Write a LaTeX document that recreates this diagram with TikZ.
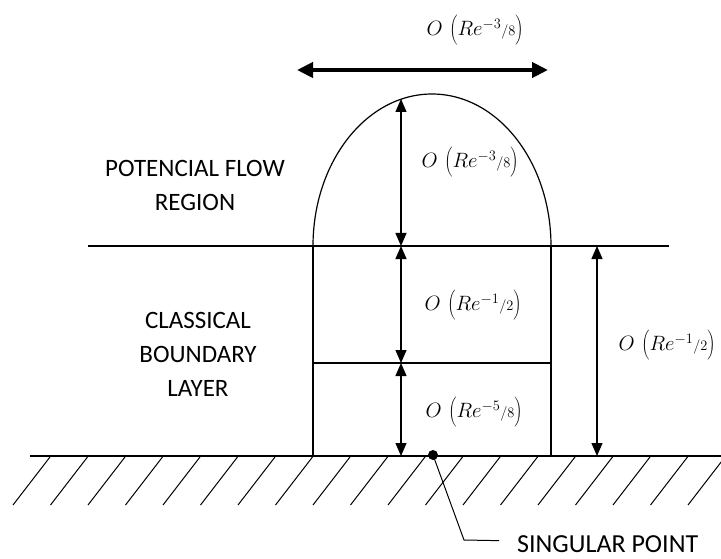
\documentclass[tikz,border=0pt]{standalone}
\usepackage[no-math]{fontspec}
\setmainfont{Carlito}
\usetikzlibrary{arrows.meta,positioning,calc}

\newcommand{\ordre}[2]{$O\,\left(\rule[-9pt]{0pt}{30pt}Re^{-#1}{\scriptstyle/#2}\right)$}

\begin{document}
\begin{tikzpicture}[x=1pt,y=-1pt,
  wall/.style={line width=1.2pt},
  dim/.style={line width=1.2pt,{Triangle[length=13pt,width=11pt]}-{Triangle[length=13pt,width=11pt]}},
  order/.style={font=\fontsize{22}{26}\selectfont,inner sep=0pt},
  region/.style={font=\fontsize{25}{34}\selectfont,align=center,inner sep=0pt}]
  \useasboundingbox (0,0) rectangle (721,559);

  % 壁と斜線
  \draw[wall] (30,456) -- (721,456); % 壁面
  \foreach \k in {0,...,18}
    \draw[line width=1pt] (50+37.5*\k,457) -- ++(-37,48); % 斜線

  % 境界層の枠
  \draw[wall] (88,246) -- (669,246); % 境界層の外縁
  \draw[wall] (313,456) -- (313,246); % 左の縦線
  \draw[wall] (551,456) -- (551,246); % 右の縦線
  \draw[wall] (313,363) -- (551,363); % 内層の上端
  \draw[wall] (313,246) arc[start angle=180,end angle=360,x radius=119,y radius=152]; % 上の領域

  % 寸法線
  \coordinate (dtop) at (401,99);
  \coordinate (dedge) at (401,246);
  \coordinate (dmid) at (401,363);
  \coordinate (dwall) at (401,456);
  \coordinate (rtop) at (597,246);
  \coordinate (rwall) at (597,456);
  \coordinate (wleft) at (297,70);
  \coordinate (wright) at (548,70);
  \draw[dim] (dtop) -- (dedge);
  \draw[dim] (dedge) -- (dmid);
  \draw[dim] (dmid) -- (dwall);
  \draw[dim] (rtop) -- (rwall);
  \draw[line width=4pt,{Triangle[length=16pt,width=15pt]}-{Triangle[length=16pt,width=15pt]}] (wleft) -- (wright);

  % ラベル
  \node[order] (owidth) at (475,30) {\ordre{3}{8}};
  \node[order] (oouter) at (470,162) {\ordre{3}{8}};
  \node[order] (oclass) at (473,305) {\ordre{1}{2}};
  \node[order] (oinner) at (474,412) {\ordre{5}{8}};
  \node[order] (oright) at (667,345) {\ordre{1}{2}};
  \node[region] (potential) at (195,185) {POTENCIAL FLOW\\REGION};
  \node[region] (classical) at (198,354) {CLASSICAL\\BOUNDARY\\LAYER};

  % 特異点
  \coordinate (sing) at (433,455);
  \fill (sing) circle[radius=5];
  \node[font=\fontsize{26}{30}\selectfont,anchor=base west,inner sep=0pt] (singular) at (517,552) {SINGULAR POINT};
  \draw[line width=1pt] (sing) -- (464,540) -- ($(singular.west)+(-18,-3)$);
\end{tikzpicture}
\end{document}
